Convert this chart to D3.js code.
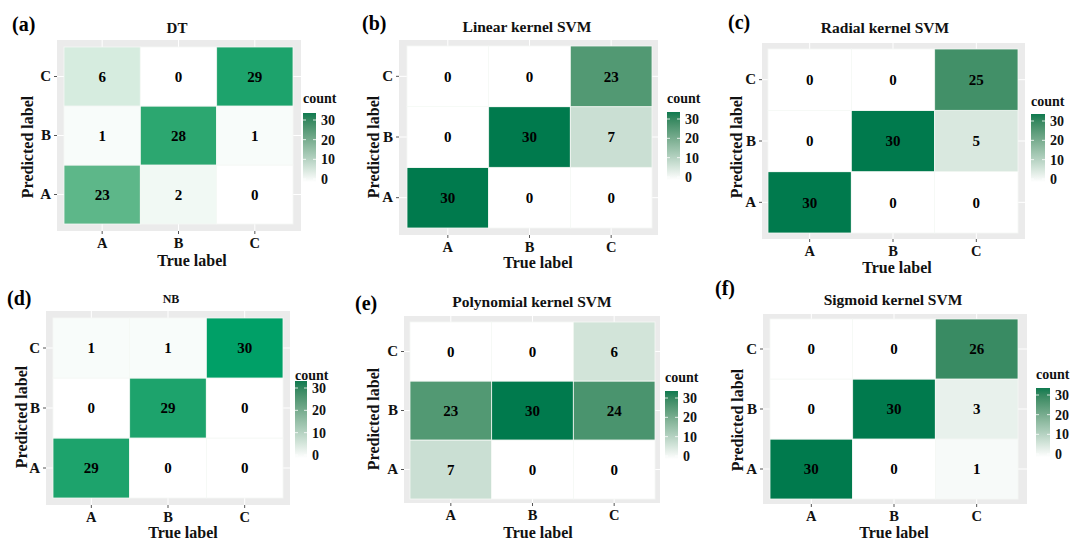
<!DOCTYPE html>
<html><head><meta charset="utf-8">
<script src="https://cdn.jsdelivr.net/npm/d3@7"></script>
<style>
body{margin:0;background:#fff;}
svg{display:block;font-family:"Liberation Serif","Times New Roman",Times,serif;font-weight:bold;}
</style>
</head><body>
<svg id="chart" width="1071" height="541"></svg>
<script>
// ---------- data ----------
const trueLabels = ["A", "B", "C"];
const predictedLabels = ["A", "B", "C"];
const legendTicks = [0, 10, 20, 30];
const panelTags = ["(a)", "(b)", "(c)", "(d)", "(e)", "(f)"];
const panelTitles = ["DT", "Linear kernel SVM", "Radial kernel SVM", "NB", "Polynomial kernel SVM", "Sigmoid kernel SVM"];
// counts[predicted][true]; predicted rows in order A, B, C ; true columns A, B, C
const countsDT      = [[23, 2, 0], [1, 28, 1], [6, 0, 29]];
const countsLinear  = [[30, 0, 0], [0, 30, 7], [0, 0, 23]];
const countsRadial  = [[30, 0, 0], [0, 30, 5], [0, 0, 25]];
const countsNB      = [[29, 0, 0], [0, 29, 0], [1, 1, 30]];
const countsPoly    = [[7, 0, 0], [23, 30, 24], [0, 0, 6]];
const countsSigmoid = [[30, 0, 1], [0, 30, 3], [0, 0, 26]];
const allCounts = [countsDT, countsLinear, countsRadial, countsNB, countsPoly, countsSigmoid];

// ---------- layout / style ----------
const FONT = "Liberation Serif, Times New Roman, serif";
const layout = [
  {bg:[57,40,301,231], tiles:[64,47,293,224], title:[177,33,15], tag:[12,31], xlab:[192,266], ylab:[33,147], bar:[303,113,316,182], cnt:103, high:"#00a067"},
  {bg:[399,40,658,235], tiles:[407,46,652,228], title:[527,32,15.5], tag:[362,30], xlab:[538,268], ylab:[379,147], bar:[667,112,680,180], cnt:103, high:"#007a4d"},
  {bg:[762,43,1025,239], tiles:[768,49,1018,233], title:[885,33,15.5], tag:[728,29], xlab:[897,273], ylab:[742,147], bar:[1031,114,1045,182], cnt:106, high:"#007a4d"},
  {bg:[46,311,290,505], tiles:[53,318,283,498], title:[171,303,12], tag:[7,305], xlab:[183,538], ylab:[27,417], bar:[295,381,307,458], cnt:380, high:"#00a067"},
  {bg:[404,316,660,503], tiles:[410,322,655,499], title:[532,307,15.5], tag:[355,310], xlab:[538,538], ylab:[379,419], bar:[665,391,678,459], cnt:382, high:"#007a4d"},
  {bg:[763,314,1027,504], tiles:[770,319,1018,499], title:[893,305,15.5], tag:[715,295], xlab:[894,538], ylab:[743,420], bar:[1036,388,1050,457], cnt:379, high:"#007a4d"}
];
const legendHigh = "#0f7a4f";

const svg = d3.select("#chart");
const defs = svg.append("defs");

allCounts.forEach((counts, i) => {
  const L = layout[i];
  const g = svg.append("g");
  const [bx0, by0, bx1, by1] = L.bg;
  const [tx0, ty0, tx1, ty1] = L.tiles;

  const x = d3.scaleBand().domain(trueLabels).range([tx0, tx1]).padding(0);
  const y = d3.scaleBand().domain(predictedLabels.slice().reverse()).range([ty0, ty1]).padding(0);
  const color = d3.scaleSequential(d3.interpolateLab("#ffffff", L.high)).domain([0, 30]);

  // panel background
  g.append("rect").attr("x", bx0).attr("y", by0).attr("width", bx1 - bx0).attr("height", by1 - by0).attr("fill", "#ebebeb");
  // grid lines
  trueLabels.forEach(t => g.append("line").attr("x1", x(t) + x.bandwidth()/2).attr("x2", x(t) + x.bandwidth()/2)
    .attr("y1", by0).attr("y2", by1).attr("stroke", "#fff").attr("stroke-width", 1));
  predictedLabels.forEach(p => g.append("line").attr("y1", y(p) + y.bandwidth()/2).attr("y2", y(p) + y.bandwidth()/2)
    .attr("x1", bx0).attr("x2", bx1).attr("stroke", "#fff").attr("stroke-width", 1));

  const cells = [];
  counts.forEach((row, r) => row.forEach((v, c) => cells.push({p: predictedLabels[r], t: trueLabels[c], v})));

  g.selectAll("rect.tile").data(cells).enter().append("rect").attr("class", "tile")
    .attr("x", d => x(d.t)).attr("y", d => y(d.p))
    .attr("width", x.bandwidth()).attr("height", y.bandwidth())
    .attr("fill", d => color(d.v)).attr("stroke", "#f4f8f5").attr("stroke-width", 0.8);

  g.selectAll("text.val").data(cells).enter().append("text").attr("class", "val")
    .attr("x", d => x(d.t) + x.bandwidth()/2).attr("y", d => y(d.p) + y.bandwidth()/2)
    .attr("dy", "0.35em").attr("text-anchor", "middle").attr("font-size", 15).attr("fill", "#000")
    .text(d => d.v);

  // axes
  const xAxis = d3.axisBottom(x).tickSize(3).tickPadding(4);
  const gx = g.append("g").attr("transform", `translate(0,${by1})`).call(xAxis)
    .attr("font-family", FONT).attr("font-size", 14.5).attr("font-weight", "bold");
  gx.select(".domain").remove();
  gx.selectAll(".tick line").attr("stroke", "#555");
  gx.selectAll(".tick text").attr("fill", "#111");

  const yAxis = d3.axisLeft(y).tickSize(3).tickPadding(3);
  const gy = g.append("g").attr("transform", `translate(${bx0},0)`).call(yAxis)
    .attr("font-family", FONT).attr("font-size", 15).attr("font-weight", "bold");
  gy.select(".domain").remove();
  gy.selectAll(".tick line").attr("stroke", "#555");
  gy.selectAll(".tick text").attr("fill", "#111");

  // titles
  g.append("text").attr("x", L.title[0]).attr("y", L.title[1]).attr("text-anchor", "middle")
    .attr("font-size", L.title[2]).attr("fill", "#111").text(panelTitles[i]);
  g.append("text").attr("x", L.tag[0]).attr("y", L.tag[1]).attr("font-size", 20).attr("fill", "#000").text(panelTags[i]);
  g.append("text").attr("x", L.xlab[0]).attr("y", L.xlab[1]).attr("text-anchor", "middle")
    .attr("font-size", 16).attr("fill", "#111").text("True label");
  g.append("text").attr("transform", `translate(${L.ylab[0]},${L.ylab[1]}) rotate(-90)`).attr("text-anchor", "middle")
    .attr("font-size", 16).attr("fill", "#111").text("Predicted label");

  // legend
  const [lx0, ly0, lx1, ly1] = L.bar;
  const gradId = "grad" + i;
  const lc = d3.scaleSequential(d3.interpolateLab("#ffffff", legendHigh)).domain([0, 30]);
  const grad = defs.append("linearGradient").attr("id", gradId).attr("x1", 0).attr("y1", 1).attr("x2", 0).attr("y2", 0);
  d3.range(0, 31, 3).forEach(v => grad.append("stop").attr("offset", v / 30).attr("stop-color", lc(v)));
  g.append("text").attr("x", lx0).attr("y", L.cnt).attr("font-size", 14).attr("fill", "#111").text("count");
  g.append("rect").attr("x", lx0).attr("y", ly0).attr("width", lx1 - lx0).attr("height", ly1 - ly0).attr("fill", `url(#${gradId})`);
  const ls = d3.scaleLinear().domain([0, 30]).range([ly1 - 3, ly0 + 7]);
  legendTicks.forEach(t => {
    g.append("line").attr("x1", lx0).attr("x2", lx0 + 3).attr("y1", ls(t)).attr("y2", ls(t)).attr("stroke", "#fff").attr("stroke-width", 0.8);
    g.append("line").attr("x1", lx1 - 3).attr("x2", lx1).attr("y1", ls(t)).attr("y2", ls(t)).attr("stroke", "#fff").attr("stroke-width", 0.8);
    g.append("text").attr("x", lx1 + 5).attr("y", ls(t)).attr("dy", "0.35em").attr("font-size", 14).attr("fill", "#111").text(t);
  });
});
</script>
</body></html>
